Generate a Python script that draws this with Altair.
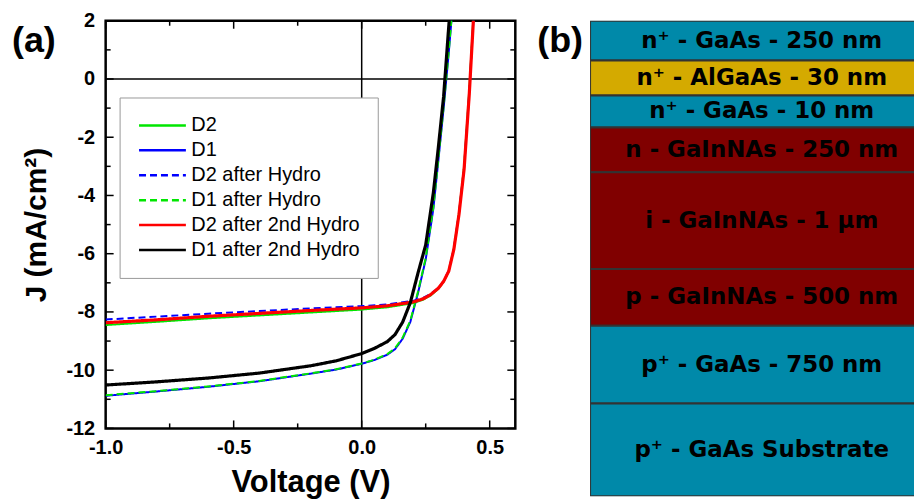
import altair as alt
import pandas as pd

# ---------------- panel (a) data ----------------
series_names = ["D2", "D1", "D2 after Hydro", "D1 after Hydro",
                "D2 after 2nd Hydro", "D1 after 2nd Hydro"]
series_colors = ["#00e600", "#0000ff", "#0000ff", "#00e600", "#ff0000", "#000000"]
series_dash = [[1, 0], [1, 0], [7, 4], [7, 4], [1, 0], [1, 0]]
series_width = [2, 2, 2, 2, 3.2, 3.2]

v_d2 = [-1.0, -0.8, -0.6, -0.4, -0.2, 0.0, 0.1, 0.2, 0.24, 0.27, 0.30, 0.32, 0.34, 0.36, 0.38, 0.40, 0.42, 0.44]
j_d2 = [-8.45, -8.34, -8.22, -8.12, -8.02, -7.92, -7.84, -7.70, -7.58, -7.43, -7.20, -6.96, -6.60, -5.83, -4.60, -3.00, -0.40, 2.70]

v_d2h = [-1.0, -0.8, -0.6, -0.4, -0.2, 0.0, 0.1, 0.2, 0.24, 0.27, 0.30, 0.32, 0.34, 0.36, 0.38, 0.40, 0.42, 0.44]
j_d2h = [-8.26, -8.16, -8.06, -7.97, -7.88, -7.80, -7.74, -7.62, -7.52, -7.38, -7.17, -6.94, -6.58, -5.83, -4.62, -3.05, -0.50, 2.60]

v_d2hh = [-1.0, -0.8, -0.6, -0.4, -0.2, 0.0, 0.1, 0.2, 0.24, 0.27, 0.30, 0.32, 0.34, 0.36, 0.38, 0.40, 0.42, 0.44]
j_d2hh = [-8.37, -8.27, -8.15, -8.05, -7.95, -7.86, -7.79, -7.66, -7.55, -7.40, -7.18, -6.95, -6.60, -5.85, -4.65, -3.10, -0.55, 2.60]

v_d1 = [-1.0, -0.8, -0.6, -0.4, -0.2, -0.1, 0.0, 0.05, 0.1, 0.13, 0.16, 0.19, 0.22, 0.25, 0.28, 0.30, 0.32, 0.34, 0.36]
j_d1 = [-10.88, -10.73, -10.57, -10.38, -10.12, -9.98, -9.78, -9.65, -9.47, -9.28, -8.92, -8.34, -7.35, -6.20, -4.45, -2.75, -1.00, 0.90, 3.00]

v_d1h = [-1.0, -0.8, -0.6, -0.4, -0.2, -0.1, 0.0, 0.05, 0.1, 0.13, 0.16, 0.19, 0.22, 0.25, 0.28, 0.30, 0.32, 0.34, 0.36]
j_d1h = [-10.86, -10.72, -10.56, -10.37, -10.11, -9.97, -9.77, -9.64, -9.45, -9.25, -8.88, -8.30, -7.30, -6.15, -4.40, -2.70, -0.95, 0.95, 3.00]

v_d1hh = [-1.0, -0.8, -0.6, -0.4, -0.2, -0.1, 0.0, 0.05, 0.1, 0.13, 0.16, 0.19, 0.22, 0.25, 0.28, 0.30, 0.32, 0.34, 0.36]
j_d1hh = [-10.51, -10.40, -10.27, -10.10, -9.85, -9.68, -9.43, -9.25, -9.02, -8.78, -8.35, -7.68, -6.66, -5.70, -3.90, -2.30, -0.60, 1.80, 4.00]

x_major_ticks = [-1.0, -0.5, 0.0, 0.5]
x_minor_ticks = [-0.75, -0.25, 0.25]
y_major_ticks = [2, 0, -2, -4, -6, -8, -10, -12]
y_minor_ticks = [1, -1, -3, -5, -7, -9, -11]

# ---------------- panel (b) data ----------------
layer_labels = ["n\u207a - GaAs - 250 nm", "n\u207a - AlGaAs - 30 nm", "n\u207a - GaAs - 10 nm",
                "n - GaInNAs - 250 nm", "i - GaInNAs - 1 \u00b5m", "p - GaInNAs - 500 nm",
                "p\u207a - GaAs - 750 nm", "p\u207a - GaAs Substrate"]
layer_material = ["GaAs", "AlGaAs", "GaAs", "GaInNAs", "GaInNAs", "GaInNAs", "GaAs", "GaAs"]
layer_drawn_thickness = [40, 35, 32, 45, 97, 57, 78, 93]
material_names = ["GaAs", "AlGaAs", "GaInNAs"]
material_colors = ["#0089a9", "#d4aa00", "#800000"]

# ---------------- build tables ----------------
width_of = dict(zip(series_names, series_width))
rows = []
for name, vs, js in [
    ("D2", v_d2, j_d2), ("D1", v_d1, j_d1),
    ("D2 after Hydro", v_d2h, j_d2h), ("D1 after Hydro", v_d1h, j_d1h),
    ("D2 after 2nd Hydro", v_d2hh, j_d2hh), ("D1 after 2nd Hydro", v_d1hh, j_d1hh),
]:
    for v, j in zip(vs, js):
        rows.append({"series": name, "V": v, "J": j, "w": width_of[name]})
jv = pd.DataFrame(rows)

W, H = 411, 409
FONT = "Liberation Sans"
xscale = alt.Scale(domain=[-1.0, 0.6], nice=False, zero=False)
yscale = alt.Scale(domain=[-12, 2], nice=False, zero=False)

xaxis = alt.Axis(values=x_major_ticks, ticks=False, grid=False, domain=False,
                 labelExpr="replace(format(datum.value, '.1f'), '\u2212', '-')",
                 labelFont=FONT, labelFontWeight="bold", labelFontSize=20, labelColor="black",
                 labelPadding=9, labelFlush=False, labelOverlap=False,
                 title="Voltage (V)", titleFont=FONT, titleFontSize=31, titleFontWeight="bold",
                 titleColor="black", titlePadding=10)
yaxis = alt.Axis(values=y_major_ticks, ticks=False, grid=False, domain=False,
                 labelExpr="replace(format(datum.value, 'd'), '\u2212', '-')",
                 labelFont=FONT, labelFontWeight="bold", labelFontSize=20, labelColor="black",
                 labelPadding=11, labelFlush=False, labelOverlap=False,
                 title="J (mA/cm\u00b2)", titleFont=FONT, titleFontSize=30, titleFontWeight="bold",
                 titleColor="black", titlePadding=14)

zero_df = pd.DataFrame({"z": [0.0]})
vzero = alt.Chart(zero_df).mark_rule(color="black", strokeWidth=1.5).encode(
    x=alt.X("z:Q", scale=xscale, axis=xaxis))
hzero = alt.Chart(zero_df).mark_rule(color="black", strokeWidth=1.5).encode(
    y=alt.Y("z:Q", scale=yscale, axis=yaxis))

def xticks(vals, length):
    df = pd.DataFrame({"t": vals})
    bottom = alt.Chart(df).mark_rule(color="black", strokeWidth=1.5).encode(
        x=alt.X("t:Q", scale=xscale), y=alt.value(H), y2=alt.value(H - length))
    top = alt.Chart(df).mark_rule(color="black", strokeWidth=1.5).encode(
        x=alt.X("t:Q", scale=xscale), y=alt.value(0), y2=alt.value(length))
    return [bottom, top]

def yticks(vals, length):
    df = pd.DataFrame({"t": vals})
    left = alt.Chart(df).mark_rule(color="black", strokeWidth=1.5).encode(
        y=alt.Y("t:Q", scale=yscale), x=alt.value(0), x2=alt.value(length))
    right = alt.Chart(df).mark_rule(color="black", strokeWidth=1.5).encode(
        y=alt.Y("t:Q", scale=yscale), x=alt.value(W), x2=alt.value(W - length))
    return [left, right]

lines = alt.Chart(jv).mark_line(clip=True).encode(
    x=alt.X("V:Q", scale=xscale, axis=xaxis),
    y=alt.Y("J:Q", scale=yscale, axis=yaxis),
    color=alt.Color("series:N", scale=alt.Scale(domain=series_names, range=series_colors), title=None),
    strokeDash=alt.StrokeDash("series:N", scale=alt.Scale(domain=series_names, range=series_dash), title=None),
    strokeWidth=alt.StrokeWidth("w:Q", scale=None, legend=None),
)

lab_a = alt.Chart(pd.DataFrame({"t": ["(a)"]})).mark_text(
    font=FONT, fontSize=36, fontWeight="bold", align="left", baseline="alphabetic", color="black"
).encode(text="t:N", x=alt.value(-94), y=alt.value(31))
lab_b = alt.Chart(pd.DataFrame({"t": ["(b)"]})).mark_text(
    font=FONT, fontSize=36, fontWeight="bold", align="left", baseline="alphabetic", color="black"
).encode(text="t:N", x=alt.value(433), y=alt.value(31))

left = alt.layer(
    vzero, hzero,
    *xticks(x_major_ticks, 8), *xticks(x_minor_ticks, 5),
    *yticks(y_major_ticks, 8), *yticks(y_minor_ticks, 5),
    lines, lab_a, lab_b,
).properties(width=W, height=H, view=alt.ViewBackground(stroke="black", strokeWidth=2.5))

# ---------------- panel (b) ----------------
lay = pd.DataFrame({"label": layer_labels, "material": layer_material,
                    "thick": layer_drawn_thickness})
lay["bottom"] = lay["thick"].cumsum()
lay["top"] = lay["bottom"] - lay["thick"]
lay["mid"] = (lay["top"] + lay["bottom"]) / 2
total = int(sum(layer_drawn_thickness))

bx = alt.Scale(domain=[0, 1], nice=False, zero=False)
by = alt.Scale(domain=[0, total], nice=False, zero=False, reverse=True)

rects = alt.Chart(lay).mark_rect(stroke="#333333", strokeWidth=2, clip=True).encode(
    x=alt.X(datum=0, type="quantitative", scale=bx, axis=None),
    x2=alt.datum(1.05),
    y=alt.Y("top:Q", scale=by, axis=None),
    y2="bottom:Q",
    fill=alt.Fill("material:N", scale=alt.Scale(domain=material_names, range=material_colors), legend=None),
)
texts = alt.Chart(lay).mark_text(
    font="DejaVu Sans", fontSize=23, fontWeight="bold", color="black", align="center", baseline="middle"
).encode(
    x=alt.X(datum=0.53, type="quantitative", scale=bx, axis=None),
    y=alt.Y("mid:Q", scale=by, axis=None),
    text="label:N",
)
right = alt.layer(rects, texts).properties(
    width=325, height=total, view=alt.ViewBackground(stroke="transparent"))

chart = alt.hconcat(left, right, spacing=75, bounds="flush").resolve_scale(
    x="independent", y="independent", color="independent", fill="independent",
    strokeDash="independent"
).properties(
    padding={"left": 10, "top": 8, "right": 0, "bottom": 0}
).configure(font=FONT).configure_legend(
    orient="none", legendX=14, legendY=77, direction="vertical",
    fillColor="white", strokeColor="#999999", padding=18,
    symbolType="M-4.7,0H4.7", symbolSize=100, symbolOffset=15, labelOffset=19,
    symbolStrokeWidth=2.5,
    rowPadding=5, labelFont=FONT, labelFontSize=20, labelColor="black", labelLimit=400,
)

chart.save("out.html", embed_options={"renderer": "svg", "actions": False})
